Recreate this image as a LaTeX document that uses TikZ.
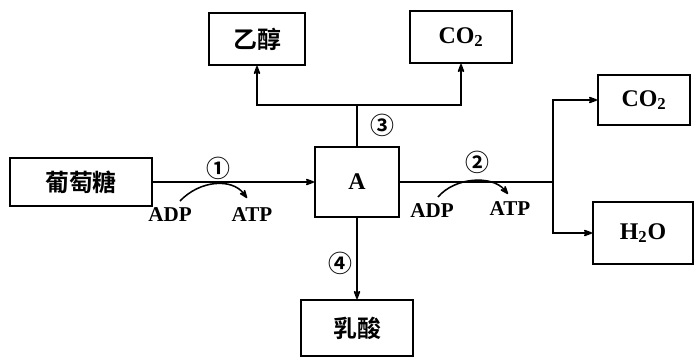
\documentclass[tikz,border=0pt]{standalone}
\usepackage{fontspec}
\setmainfont{Liberation Serif}
\newfontfamily\cjk{Noto Sans CJK SC}[BoldFont={Noto Sans CJK SC Bold}]
\usetikzlibrary{arrows.meta,positioning}

\begin{document}
\begin{tikzpicture}[
  x=0.025cm, y=-0.025cm,
  >={Stealth[round,length=8pt,width=6pt]}, line width=1.1pt,
  box/.style={rectangle,draw,line width=1.4pt,inner sep=2pt,font=\bfseries\fontsize{17}{20}\selectfont},
  cbox/.style={box,font=\cjk\bfseries\fontsize{17}{20}\selectfont},
  num/.style={inner sep=1pt,font=\cjk\bfseries\fontsize{17}{20}\selectfont},
  lab/.style={inner sep=1pt,font=\bfseries\fontsize{15}{18}\selectfont},
  every edge/.style={draw,->}
]
\useasboundingbox (0,0) rectangle (699,362);
% boxes
\node[cbox,minimum width=3.55cm,minimum height=1.2cm] (gluc) at (81,182) {葡萄糖};
\node[box,minimum width=2.1cm,minimum height=1.75cm] (A) at (357,182) {A};
\node[cbox,minimum width=2.4cm,minimum height=1.3cm] (eth) at (257,39) {乙醇};
\node[box,minimum width=2.55cm,minimum height=1.3cm] (co2a) at (461,37) {CO\textsubscript{2}};
\node[box,minimum width=2.3cm,minimum height=1.25cm] (co2b) at (644,100) {CO\textsubscript{2}};
\node[box,minimum width=2.5cm,minimum height=1.55cm] (water) at (643,233) {H\textsubscript{2}O};
\node[cbox,minimum width=2.8cm,minimum height=1.4cm] (lac) at (357,328) {乳酸};
% step 1
\draw (gluc) edge (A);
\node[num] (n1) at (218,168) {①};
\node[lab] (adp1) at (170,215) {ADP};
\node[lab] (atp1) at (252,215) {ATP};
\coordinate (c1s) at (180,201); \coordinate (c1e) at (247,198);
\draw[->] (c1s) .. controls (200,180) and (232,178) .. (c1e);
% step 2
\coordinate (j2) at (553,182);
\draw (A.east) -- (j2);
\draw[->] (j2) |- (co2b.west);
\draw[->] (j2) |- (water.west);
\node[num] (n2) at (477,162) {②};
\node[lab] (adp2) at (432,211) {ADP};
\node[lab] (atp2) at (510,209) {ATP};
\coordinate (c2s) at (438,197); \coordinate (c2e) at (508,194);
\draw[->] (c2s) .. controls (455,177) and (492,175) .. (c2e);
% step 3
\coordinate (j3) at (357,105);
\draw (A.north) -- (j3);
\draw[->] (j3) -| (eth.south);
\draw[->] (j3) -| (co2a.south);
\node[num] (n3) at (382,125) {③};
% step 4
\draw (A) edge (lac);
\node[num] (n4) at (340,263) {④};
\end{tikzpicture}
\end{document}
